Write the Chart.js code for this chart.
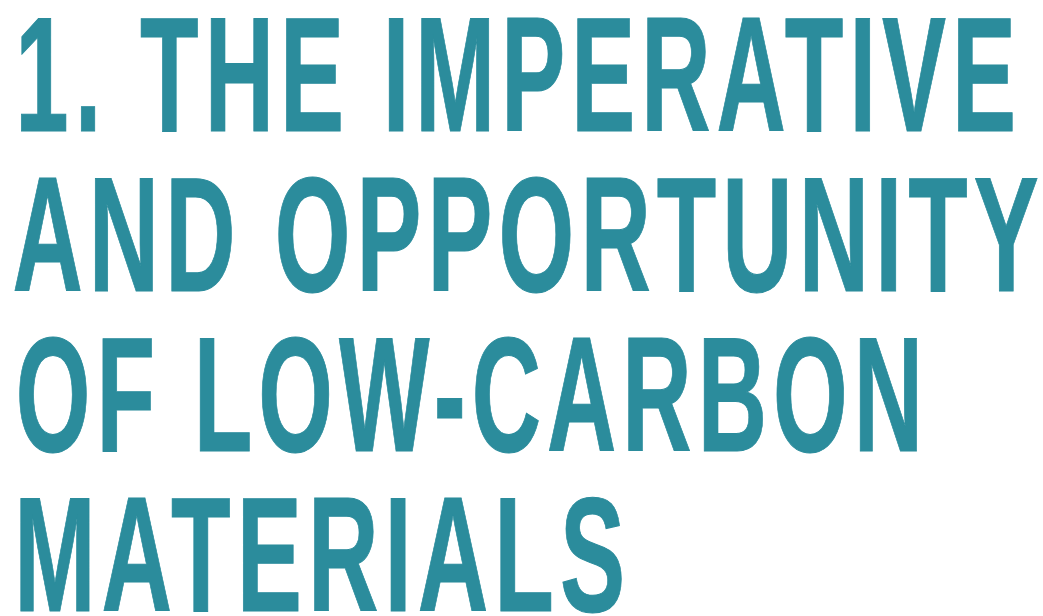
<!DOCTYPE html>
<html><head><meta charset="utf-8">
<script src="https://cdn.jsdelivr.net/npm/chart.js@4.4.1/dist/chart.umd.min.js"></script>
<style>html,body{margin:0;padding:0;background:#fff;overflow:hidden}#wrap{width:1043px;height:616px;position:relative}</style>
</head><body><div id="wrap"><canvas id="c"></canvas></div>
<script>
// Text content
const headingLines = ["1. THE IMPERATIVE", "AND OPPORTUNITY", "OF LOW-CARBON", "MATERIALS"];
const headingColor = "#2b8c9c";

// Layout (ink box of each line, px)
const layout = {
  inkLeft:  [21, 14, 19, 20],
  inkRight: [1013, 1038, 917, 622],
  capTop:   [19, 179, 339, 499],
  baseline: [132, 292, 452, 612]
};

const headingPlugin = {
  id: 'heading',
  afterDraw(chart) {
    const ctx = chart.ctx;
    ctx.save();
    ctx.fillStyle = headingColor;
    ctx.strokeStyle = headingColor;
    ctx.lineWidth = 1;
    ctx.lineJoin = 'miter';
    ctx.font = 'bold 160px "Liberation Sans Narrow", "Liberation Sans", sans-serif';
    if ('letterSpacing' in ctx) ctx.letterSpacing = '10px';
    ctx.textBaseline = 'alphabetic';
    ctx.textAlign = 'left';
    const capH = ctx.measureText('H').actualBoundingBoxAscent + ctx.lineWidth;
    headingLines.forEach((t, i) => {
      const m = ctx.measureText(t);
      const inkW = m.actualBoundingBoxLeft + m.actualBoundingBoxRight + ctx.lineWidth;
      const sx = (layout.inkRight[i] - layout.inkLeft[i]) / inkW;
      const sy = (layout.baseline[i] - layout.capTop[i]) / capH;
      ctx.save();
      ctx.translate(layout.inkLeft[i], layout.baseline[i]);
      ctx.scale(sx, sy);
      const x = m.actualBoundingBoxLeft + ctx.lineWidth / 2;
      const y = -ctx.lineWidth / 2;
      ctx.fillText(t, x, y);
      ctx.strokeText(t, x, y);
      ctx.restore();
    });
    ctx.restore();
  }
};

new Chart(document.getElementById('c'), {
  type: 'bar',
  data: { labels: [], datasets: [] },
  options: {
    responsive: true,
    maintainAspectRatio: false,
    animation: false,
    events: [],
    layout: { padding: 0 },
    plugins: { legend: { display: false }, tooltip: { enabled: false }, title: { display: false } },
    scales: { x: { display: false }, y: { display: false } }
  },
  plugins: [headingPlugin]
});
</script>
</body></html>
